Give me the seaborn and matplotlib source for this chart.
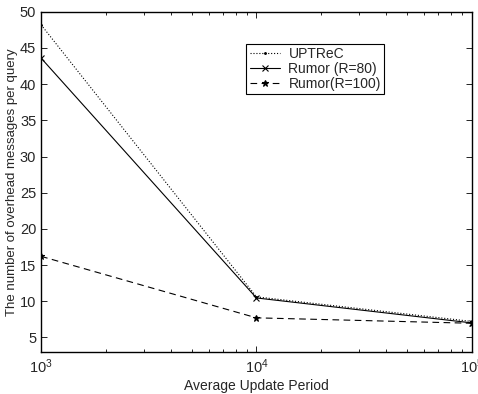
import pandas as pd
import seaborn as sns
import matplotlib.pyplot as plt
from matplotlib.ticker import LogLocator, NullFormatter

sns.set_style("ticks")
plt.rcParams["font.family"] = ["Liberation Sans", "DejaVu Sans"]

periods = [1e3, 1e4, 1e5]
uptrec = [48.2, 10.6, 7.2]
rumor_80 = [43.6, 10.45, 7.0]
rumor_100 = [16.2, 7.7, 6.95]

series = {
    "UPTReC": uptrec,
    "Rumor (R=80)": rumor_80,
    "Rumor(R=100)": rumor_100,
}
df = pd.concat(
    [pd.DataFrame({"period": periods, "msgs": v, "method": k}) for k, v in series.items()],
    ignore_index=True,
)

fig = plt.figure(figsize=(4.78, 3.94), dpi=100)
ax = fig.add_axes([0.086, 0.107, 0.901, 0.863])

styles = {
    "UPTReC": dict(linestyle=":", marker=".", markersize=2.5, linewidth=0.8),
    "Rumor (R=80)": dict(linestyle="-", marker="x", markersize=4, linewidth=0.8),
    "Rumor(R=100)": dict(linestyle=(0, (6, 4)), marker="*", markersize=5, linewidth=0.8),
}
for name, st in styles.items():
    sns.lineplot(
        data=df[df.method == name], x="period", y="msgs", ax=ax,
        color="black", label=name, markeredgewidth=0.8,
        markeredgecolor="black", markerfacecolor="black", **st,
    )

ax.set_xscale("log")
ax.set_xlim(1e3, 1e5)
ax.set_ylim(3, 50)
ax.set_yticks(range(5, 51, 5))
ax.xaxis.set_minor_locator(LogLocator(base=10, subs=range(2, 10)))
ax.xaxis.set_minor_formatter(NullFormatter())
ax.tick_params(axis="both", which="both", direction="in", top=True, right=True,
               labelsize=10.5, width=0.6, color="black")
ax.tick_params(axis="both", which="major", length=4)
ax.tick_params(axis="x", which="minor", length=2.5)
ax.tick_params(axis="x", pad=4)
for s in ax.spines.values():
    s.set_linewidth(1.0)
    s.set_color("black")

ax.set_xlabel("Average Update Period", fontsize=10, labelpad=2)
ax.set_ylabel("The number of overhead messages per query", fontsize=9.5, labelpad=1)

leg = ax.legend(loc="upper left", bbox_to_anchor=(0.476, 0.906), fontsize=10,
                fancybox=False, edgecolor="black", framealpha=1,
                borderpad=0.25, labelspacing=0.05, handlelength=2.2,
                handletextpad=0.6, borderaxespad=0)
leg.get_frame().set_linewidth(0.8)

fig.savefig("out.png", dpi=100)
